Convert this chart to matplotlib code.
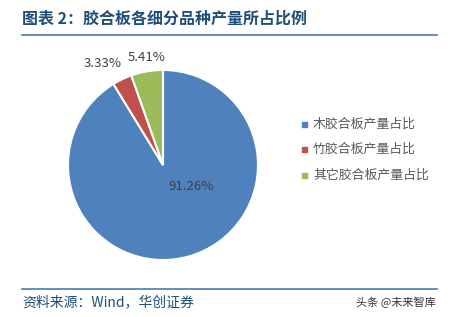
import matplotlib.pyplot as plt
from matplotlib.lines import Line2D

plt.rcParams['font.family'] = ['Noto Sans CJK SC', 'DejaVu Sans']

categories = ['木胶合板产量占比', '竹胶合板产量占比', '其它胶合板产量占比']
shares = [91.26, 3.33, 5.41]
colors = ['#4f81bd', '#c0504d', '#9bbb59']

W, H = 453, 317
fig = plt.figure(figsize=(W / 100, H / 100), dpi=100)


def fx(px):
    return px / W


def fy(py):
    return 1 - py / H


# title and rules
fig.text(fx(22), fy(19), '图表 2：胶合板各细分品种产量所占比例', fontsize=11.5,
         fontweight='bold', color='#1f4e79', va='center', ha='left')
fig.add_artist(Line2D([fx(22), fx(437)], [fy(35), fy(35)], color='#4a7ab5', lw=1.2))
fig.add_artist(Line2D([fx(22), fx(437)], [fy(289), fy(289)], color='#4a7ab5', lw=1.2))
fig.text(fx(22), fy(302), '资料来源：Wind，华创证券', fontsize=10, style='italic',
         color='#1f4e79', va='center', ha='left')
fig.text(fx(436), fy(302), '头条 @未来智库', fontsize=8, color='#333333',
         va='center', ha='right')

# pie
ax = fig.add_axes([fx(68), fy(260), fx(190), 190 / H])
wedges, texts, autotexts = ax.pie(
    shares, colors=colors, startangle=90, counterclock=False,
    autopct='%.2f%%', wedgeprops=dict(edgecolor='white', linewidth=1.5),
    textprops=dict(fontsize=9.5, color='#404040'))
ax.set_aspect('equal')
ax.set_xlim(-1, 1)
ax.set_ylim(-1, 1)

label_pos = [(0.30, -0.23), (-0.64, 1.07), (-0.17, 1.13)]
for t, p in zip(autotexts, label_pos):
    t.set_position(p)

# legend
for i, (name, c) in enumerate(zip(categories, colors)):
    y = 124 + i * 25.5
    fig.patches.append(plt.Rectangle((fx(302), fy(y + 2.5)), fx(5), 5 / H,
                                     color=c, transform=fig.transFigure))
    fig.text(fx(313), fy(y), name, fontsize=9.3, color='#595959',
             va='center', ha='left')

fig.savefig('out.png', dpi=100)
